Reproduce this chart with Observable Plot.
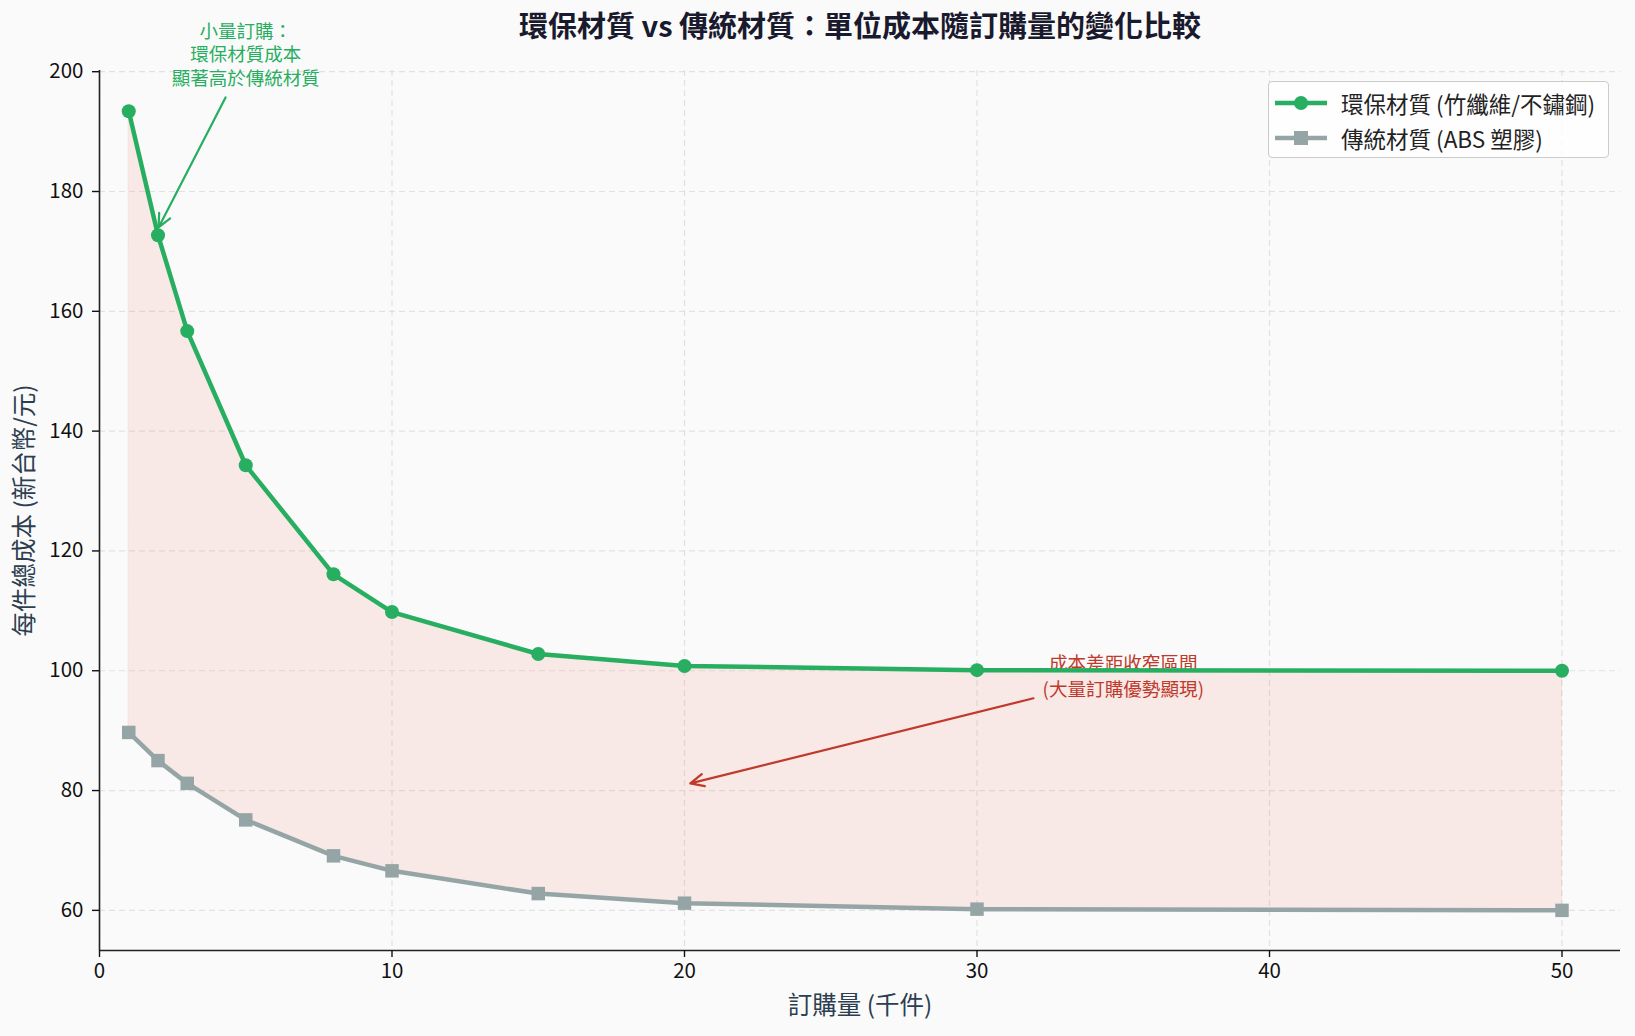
<!DOCTYPE html>
<html>
<head>
<meta charset="utf-8">
<script src="https://cdn.jsdelivr.net/npm/d3@7"></script>
<script src="https://cdn.jsdelivr.net/npm/@observablehq/plot@0.6"></script>
<style>
  html, body { margin: 0; padding: 0; background: #fafafa; }
  #wrap { position: relative; width: 1635px; height: 1036px; font-family: "Noto Sans CJK TC", "Noto Sans", sans-serif; }
  #legend { position: absolute; left: 1268px; top: 81px; width: 339px; height: 75px; border: 1px solid #cccccc; border-radius: 4px; background: rgba(255,255,255,0.8); box-sizing: content-box; }
  .item { position: absolute; left: 6px; height: 30px; display: flex; align-items: center; font-size: 22.5px; color: #222; white-space: nowrap; }
  .item svg { margin-right: 14px; }
</style>
</head>
<body>
<div id="wrap"><div id="legend"></div></div>
<script>
// ---- data ----
const quantity = [1, 2, 3, 5, 8, 10, 15, 20, 30, 50];           // 千件
const ecoCost = [193.4, 172.7, 156.7, 134.3, 116.1, 109.8, 102.8, 100.8, 100.1, 100.0];
const tradCost = [89.7, 85.0, 81.2, 75.1, 69.1, 66.6, 62.8, 61.2, 60.2, 60.0];
const xTicks = [0, 10, 20, 30, 40, 50];
const yTicks = [60, 80, 100, 120, 140, 160, 180, 200];
const seriesNames = ["環保材質 (竹纖維/不鏽鋼)", "傳統材質 (ABS 塑膠)"];
const titleText = "環保材質 vs 傳統材質：單位成本隨訂購量的變化比較";
const xLabel = "訂購量 (千件)";
const yLabel = "每件總成本 (新台幣/元)";
// annotations (data coordinates)
const noteGreen = { text: "小量訂購：\n環保材質成本\n顯著高於傳統材質", x: 5, y: 203, ax1: 4.31, ay1: 195.7, ax2: 2.02, ay2: 174.0 };
const noteRed = { text: "成本差距收窄區間\n(大量訂購優勢顯現)", x: 35, y: 99.3, ax1: 31.93, ay1: 95.4, ax2: 20.2, ay2: 81.2 };

const green = "#27ae60", gray = "#95a5a6", red = "#c0392b";
const rows = quantity.map((q, i) => ({ q, eco: ecoCost[i], trad: tradCost[i] }));
const yMin = 53.3, yMax = 200.2;
const font = '"Noto Sans CJK TC", "Noto Sans", sans-serif';

const chart = Plot.plot({
  width: 1635,
  height: 1036,
  marginLeft: 99,
  marginRight: 15,
  marginTop: 70,
  marginBottom: 86,
  style: { fontFamily: font, background: "#fafafa", overflow: "visible" },
  x: { domain: [0, 52] },
  y: { domain: [yMin, yMax] },
  marks: [
    Plot.gridX(xTicks, { stroke: "#dcdcdc", strokeOpacity: 0.8, strokeDasharray: "6,4", strokeWidth: 1.2 }),
    Plot.gridY(yTicks, { stroke: "#dcdcdc", strokeOpacity: 0.8, strokeDasharray: "6,4", strokeWidth: 1.2 }),
    Plot.areaY(rows, { x: "q", y1: "trad", y2: "eco", fill: "#e74c3c", fillOpacity: 0.1, stroke: "#e74c3c", strokeOpacity: 0.1 }),
    // red annotation text sits beneath the lines
    Plot.text([noteRed], { x: "x", y: "y", text: "text", fill: red, fontSize: 18.6, lineHeight: 1.35, textAnchor: "middle", lineAnchor: "middle" }),
    Plot.arrow([noteRed], { x1: "ax1", y1: "ay1", x2: "ax2", y2: "ay2", stroke: red, strokeWidth: 2.2, headLength: 10, headAngle: 50 }),
    Plot.line(rows, { x: "q", y: "trad", stroke: gray, strokeWidth: 4.5 }),
    Plot.dot(rows, { x: "q", y: "trad", fill: gray, symbol: "square", r: 7.6 }),
    Plot.line(rows, { x: "q", y: "eco", stroke: green, strokeWidth: 4.5 }),
    Plot.dot(rows, { x: "q", y: "eco", fill: green, r: 7 }),
    Plot.text([noteGreen], { x: "x", y: "y", text: "text", fill: green, fontSize: 18.5, lineHeight: 1.27, textAnchor: "middle", lineAnchor: "middle" }),
    Plot.arrow([noteGreen], { x1: "ax1", y1: "ay1", x2: "ax2", y2: "ay2", stroke: green, strokeWidth: 2.2, headLength: 10, headAngle: 50 }),
    Plot.ruleX([0], { stroke: "#222", strokeWidth: 1.6 }),
    Plot.ruleY([yMin], { stroke: "#222", strokeWidth: 1.6 }),
    Plot.axisX(xTicks, { tickSize: 7, tickPadding: 6, fontSize: 20.5, color: "#111", label: null, strokeWidth: 1.4 }),
    Plot.axisY(yTicks, { tickSize: 7, tickPadding: 9, fontSize: 20.5, color: "#111", label: null, strokeWidth: 1.4 }),
    Plot.text([titleText], { frameAnchor: "top", dy: -43, text: d => d, fontSize: 29, fontWeight: "bold", fill: "#1a1a2e", lineAnchor: "middle" }),
    Plot.text([xLabel], { frameAnchor: "bottom", dy: 56, text: d => d, fontSize: 24.5, fill: "#2c3e50", lineAnchor: "middle" }),
    Plot.text([yLabel], { frameAnchor: "left", dx: -74, rotate: -90, text: d => d, fontSize: 24.5, fill: "#2c3e50", textAnchor: "middle", lineAnchor: "middle" })
  ]
});

const wrap = document.getElementById("wrap");
wrap.insertBefore(chart, wrap.firstChild);

// legend
const legend = document.getElementById("legend");
const legendItems = [
  { name: seriesNames[0], color: green, shape: "circle" },
  { name: seriesNames[1], color: gray, shape: "square" }
];
legendItems.forEach((it, i) => {
  const div = document.createElement("div");
  div.className = "item";
  div.style.top = (6 + i * 35) + "px";
  const marker = it.shape === "circle"
    ? `<circle cx="26" cy="15" r="7" fill="${it.color}"/>`
    : `<rect x="19" y="8" width="14" height="14" fill="${it.color}"/>`;
  div.innerHTML = `<svg width="52" height="30"><line x1="0" x2="52" y1="15" y2="15" stroke="${it.color}" stroke-width="4.5"/>${marker}</svg><span>${it.name}</span>`;
  legend.appendChild(div);
});
</script>
</body>
</html>
